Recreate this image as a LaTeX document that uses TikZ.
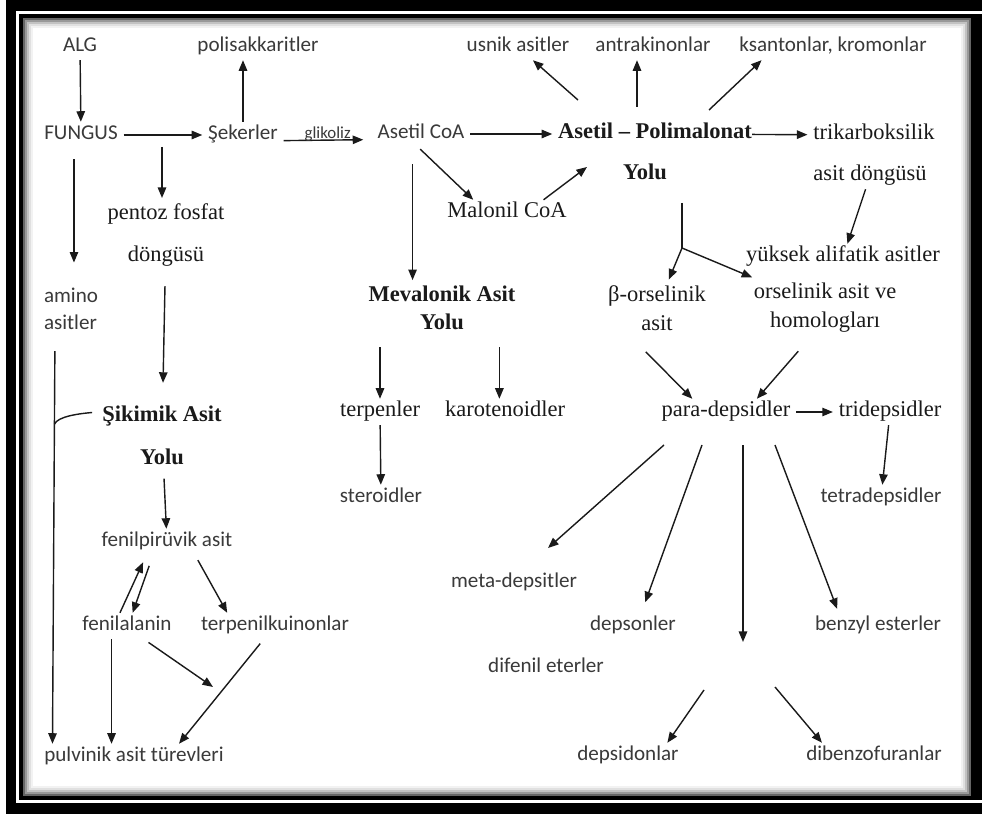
\documentclass[tikz,border=0pt]{standalone}
\usepackage{fontspec}
\usepackage{tikz}
\usetikzlibrary{arrows.meta,calc}
\newfontfamily\carlito{Carlito}
\newfontfamily\libserif{Liberation Serif}
\definecolor{ink}{HTML}{1A1A1A}
\definecolor{sanstext}{HTML}{3A3A3A}

\begin{document}
\begin{tikzpicture}[
  x=0.025cm, y=-0.025cm,
  lbl0/.style={inner sep=4pt, text=sanstext, font=\carlito\fontsize{15}{19}\selectfont},
  lbl/.style={lbl0, text height=0.84em, text depth=0.2em},
  ser0/.style={inner sep=4pt, text=ink, font=\libserif\fontsize{16}{20.5}\selectfont},
  ser/.style={ser0, text height=0.84em, text depth=0.2em},
  serb/.style={ser, font=\libserif\bfseries\fontsize{16}{20.5}\selectfont},
  serdbl/.style={ser0, align=center, font=\libserif\fontsize{16}{29.5}\selectfont},
  serbdbl/.style={ser0, align=center, font=\libserif\bfseries\fontsize{16}{30.5}\selectfont},
  glik/.style={inner sep=0pt, text=sanstext, font=\carlito\fontsize{12}{13}\selectfont},
  arr/.style={-{Triangle[length=7.5pt,width=6pt]}, line width=1pt, draw=ink}
]
\useasboundingbox (0,0) rectangle (982,814);

% frame
\fill[white] (0,0) rectangle (982,814);
\fill[black] (6,0) rectangle (982,814);
\fill[white] (16,11) rectangle (982,803);
\fill[black] (19,14) rectangle (982,800);
\foreach \i/\c in {0/60,2/40,4/24,6/12,8/5}
  \fill[black!\c] (23+\i,18+\i) rectangle (971-\i,796-\i);
\fill[white] (33,28) rectangle (961,786);

% left branch
\node[lbl] (alg) at (80,47) {ALG};
\node[lbl] (fungus) at (81,135) {FUNGUS};
\node[lbl] (seker) at (243,135) {Şekerler};
\node[lbl] (polisak) at (258,47) {polisakkaritler};
\node[serdbl] (pentoz) at (166,235) {pentoz fosfat\\döngüsü};
\node[lbl0, align=left, font=\carlito\fontsize{15}{19.2}\selectfont] (amino) at (71,309) {amino\\asitler};
\node[serbdbl] (sikimik) at (162,435) {Şikimik Asit\\Yolu};
\node[lbl] (fenilpir) at (167,542) {fenilpirüvik asit};
\node[lbl] (fenilal) at (127,626) {fenilalanin};
\node[lbl] (terpenilk) at (275,626) {terpenilkuinonlar};
\node[lbl] (pulvinik) at (134,757) {pulvinik asit türevleri};

% middle
\node[lbl] (asetilcoa) at (421,134) {Asetil CoA};
\node[ser] (malonil) at (507,213) {Malonil CoA};
\node[ser0, align=center, font=\libserif\bfseries\fontsize{16}{20}\selectfont] (mevalonik) at (442,308) {Mevalonik Asit\\Yolu};
\node[ser] (terpen) at (380,412) {terpenler};
\node[ser] (karoten) at (505,412) {karotenoidler};
\node[lbl] (steroid) at (381,498) {steroidler};

% right branch
\node[serb] (asetilpm) at (655,134) {Asetil – Polimalonat};
\node[serb] (yolu) at (645,175) {Yolu};
\node[lbl] (usnik) at (518,47) {usnik asitler};
\node[lbl] (antrak) at (653,47) {antrakinonlar};
\node[lbl] (ksanton) at (833,47) {ksantonlar, kromonlar};
\node[ser] (trikarb) at (874,135) {trikarboksilik};
\node[ser] (asitdong) at (870,176) {asit döngüsü};
\node[ser] (yuksek) at (843,257) {yüksek alifatik asitler};
\node[ser0, align=center] (borsel) at (657,308) {β-orselinik\\asit};
\node[ser0, align=center] (orsel) at (825,308) {orselinik asit ve\\homologları};
\node[ser] (para) at (726,412) {para-depsidler};
\node[ser] (tridep) at (890,412) {tridepsidler};
\node[lbl] (tetradep) at (881,498) {tetradepsidler};
\node[lbl] (meta) at (514,583) {meta-depsitler};
\node[lbl] (depson) at (633,626) {depsonler};
\node[lbl] (benzyl) at (878,626) {benzyl esterler};
\node[lbl] (difenil) at (546,668) {difenil eterler};
\node[lbl] (depsidon) at (628,756) {depsidonlar};
\node[lbl] (dibenzo) at (874,756) {dibenzofuranlar};

% free ends
\coordinate (pf) at (162,147);
\coordinate (mp) at (587,167);
\coordinate (u0) at (578,100);
\coordinate (a0) at (637,107);
\coordinate (k0) at (709,110);
\coordinate (br0) at (682,203);
\coordinate (br) at (682,248);
\coordinate (fj) at (213,687);
\coordinate (f1) at (664,445);
\coordinate (f2) at (702,445);
\coordinate (f3) at (743,445);
\coordinate (f4) at (775,445);
\coordinate (mt) at (548,548);
\coordinate (dp) at (743,642);
\coordinate (d1) at (704,690);
\coordinate (d2) at (775,687);

% connectors, left
\draw[arr] (alg) -- (fungus);
\draw[arr] (fungus) -- (seker);
\draw[arr] (seker.north) -- (seker.north |- polisak.south);
\draw[arr, shorten >=6pt] ([yshift=-4pt]seker.east) -- ([yshift=-4pt]asetilcoa.west)
  node[glik, midway, anchor=base, yshift=1pt] (glk) {glikoliz};
\draw[arr] (pf) -- (pf |- pentoz.north);
\draw[arr, shorten <=10pt, shorten >=12pt] (pentoz) -- (sikimik);
\draw[arr, shorten <=8pt, shorten >=14pt] ([xshift=-5pt]fungus.south) -- ([xshift=-5pt]fungus.south |- amino.north);
\draw[arr, shorten <=11pt] ([xshift=12pt]amino.south west) -- coordinate[pos=0.217] (sj) ([xshift=10pt]pulvinik.north west);
\draw[line width=1pt, draw=ink] (sj) .. controls +(3,-8) and +(-12,1) .. ([xshift=-3pt,yshift=16pt]sikimik.west);
\draw[arr, shorten <=6pt] (sikimik) -- (fenilpir);
\draw[arr] ([xshift=-5pt]fenilal.north) -- ([xshift=-17pt,yshift=-5pt]fenilpir.south);
\draw[arr, shorten <=8pt] ([xshift=-10pt]fenilpir.south) -- ([xshift=4pt]fenilal.north);
\draw[arr, shorten <=4pt] ([xshift=20pt]fenilpir.south) -- ([xshift=-34pt]terpenilk.north);
\draw[arr] ([xshift=-11pt]fenilal.south) -- ([xshift=-11pt]fenilal.south |- pulvinik.north);
\draw[arr, shorten <=4pt] ([xshift=12pt]fenilal.south) -- (fj);
\draw[arr, shorten <=4pt] ([xshift=-8pt]terpenilk.south) -- ([xshift=32pt]pulvinik.north);

% connectors, middle
\draw[arr] (asetilcoa) -- (asetilpm);
\draw[arr, shorten <=2pt] ([xshift=-2pt]asetilcoa.south) -- ([xshift=-24pt]malonil.north);
\draw[arr] ([xshift=26pt]malonil.north) -- (mp);
\draw[arr, shorten <=12pt] ([xshift=-6pt]asetilcoa.south) -- ([xshift=-6pt]asetilcoa.south |- mevalonik.north);
\draw[arr, shorten <=8pt] (terpen |- mevalonik.south) -- (terpen);
\draw[arr, shorten <=8pt] ([xshift=-4pt]karoten.north |- mevalonik.south) -- ([xshift=-4pt]karoten.north);
\draw[arr] (terpen) -- (steroid);

% connectors, right
\draw[arr, shorten <=-4pt] (asetilpm) -- (trikarb);
\draw[arr] (u0) -- (usnik);
\draw[arr] (a0) -- (a0 |- antrak.south);
\draw[arr] (k0) -- ([xshift=20pt]ksanton.south west);
\draw[arr] (asitdong) -- (yuksek);
\draw[line width=1pt, draw=ink] (br0) -- (br);
\draw[arr] (br) -- (borsel);
\draw[arr] (br) -- (orsel);
\draw[arr] ([xshift=-8pt,yshift=-11pt]borsel.south) -- ([xshift=26pt]para.north west);
\draw[arr] ([xshift=-19pt,yshift=-9pt]orsel.south) -- ([xshift=-28pt]para.north east);
\draw[arr] (para) -- (tridep);
\draw[arr] (tridep) -- (tetradep);
\draw[arr] (f1) -- (mt);
\draw[arr, shorten >=8pt] (f2) -- ([xshift=6pt]depson.north);
\draw[arr] (f3) -- (dp);
\draw[arr, shorten >=3pt] (f4) -- ([xshift=-28pt]benzyl.north);
\draw[arr] (d1) -- ([xshift=28pt]depsidon.north);
\draw[arr] (d2) -- ([xshift=-37pt]dibenzo.north);
\end{tikzpicture}
\end{document}
